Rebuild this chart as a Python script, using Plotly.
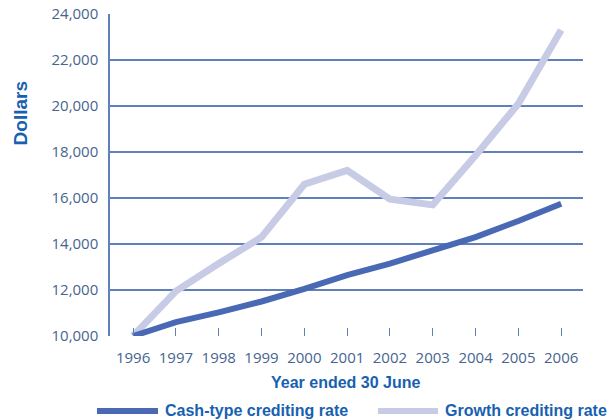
import plotly.graph_objects as go

years = [1996, 1997, 1998, 1999, 2000, 2001, 2002, 2003, 2004, 2005, 2006]
cash_type = [10000, 10600, 11030, 11500, 12050, 12650, 13150, 13750, 14300, 15000, 15750]
growth = [10000, 11950, 13150, 14300, 16600, 17200, 15950, 15700, 17850, 20100, 23300]
y_ticks = [10000, 12000, 14000, 16000, 18000, 20000, 22000, 24000]

cash_color = "#4a69b5"
growth_color = "#c7cbe6"
grid_color = "#5f80b8"
tick_color = "#46648f"
title_color = "#1761b0"

fig = go.Figure()
fig.add_trace(go.Scatter(x=years, y=growth, mode="lines", name="Growth crediting rate",
                         line=dict(color=growth_color, width=7), showlegend=False))
fig.add_trace(go.Scatter(x=years, y=cash_type, mode="lines", name="Cash-type crediting rate",
                         line=dict(color=cash_color, width=6), showlegend=False))

fig.update_layout(
    width=613, height=419,
    margin=dict(l=110, r=30, t=14, b=83),
    paper_bgcolor="white", plot_bgcolor="white",
    xaxis=dict(range=[1995.46, 2006.51], tickvals=years, ticktext=[str(y) for y in years],
               ticks="inside", ticklen=8, tickwidth=1.2, tickcolor=grid_color,
               showgrid=False, showline=False, zeroline=False, automargin=False,
               ticklabelstandoff=11,
               tickfont=dict(family="Open Sans", size=15, color=tick_color)),
    yaxis=dict(range=[10000, 24000], tickvals=y_ticks, tickformat=",d",
               showgrid=True, gridcolor=grid_color, gridwidth=1.5,
               showline=True, linecolor=grid_color, linewidth=1.5, zeroline=False,
               ticks="", ticklabelstandoff=7, automargin=False,
               tickfont=dict(family="Open Sans", size=15, color=tick_color)),
)

annotations = [
    dict(text="<b>Year ended 30 June</b>", xref="paper", yref="paper", x=0.499, y=-0.143,
         xanchor="center", yanchor="middle", showarrow=False,
         font=dict(family="Liberation Sans", size=16, color=title_color)),
    dict(text="<b>Dollars</b>", xref="paper", yref="paper", x=-0.189, y=0.69, textangle=-90,
         xanchor="center", yanchor="middle", showarrow=False,
         font=dict(family="Liberation Sans", size=19, color=title_color)),
    dict(text="<b>Cash-type crediting rate</b>", xref="paper", yref="paper", x=0.112, y=-0.231,
         xanchor="left", yanchor="middle", showarrow=False,
         font=dict(family="Liberation Sans", size=16, color=title_color)),
    dict(text="<b>Growth crediting rate</b>", xref="paper", yref="paper", x=0.704, y=-0.231,
         xanchor="left", yanchor="middle", showarrow=False,
         font=dict(family="Liberation Sans", size=16, color=title_color)),
]
fig.update_layout(annotations=annotations)
fig.add_shape(type="line", xref="paper", yref="paper", x0=-0.0275, x1=0.1015, y0=-0.2329, y1=-0.2329,
              line=dict(color=cash_color, width=6))
fig.add_shape(type="line", xref="paper", yref="paper", x0=0.5666, x1=0.6934, y0=-0.2329, y1=-0.2329,
              line=dict(color=growth_color, width=6))

fig.write_html("out.html", config={"displayModeBar": False},
               post_script="document.body.style.margin='0px';")
